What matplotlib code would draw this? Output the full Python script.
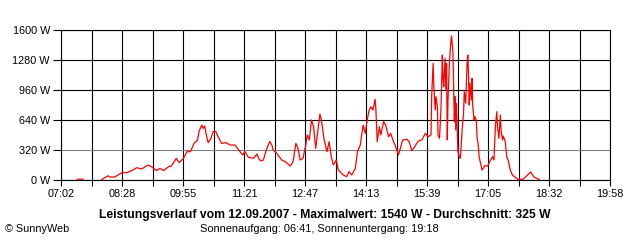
import matplotlib.pyplot as plt
import numpy as np

# power readings (W), 12.09.2007
times = ["07:25", "07:33", None,
         "07:59", "08:08", "08:11", "08:18", "08:28", "08:35", "08:42", "08:49", "08:56", "09:05",
         "09:10", "09:17", "09:22", "09:27", "09:34", "09:38", "09:45", "09:49", "09:55", "10:00",
         "10:05", "10:10", "10:15", "10:17", "10:21", "10:23", "10:25", "10:28", "10:30", "10:34",
         "10:37", "10:41", "10:44", "10:49", "10:55", "11:01", "11:08", "11:15", "11:19", "11:22",
         "11:27", "11:34", "11:39", "11:42", "11:45", "11:48", "11:53", "11:57", "12:00", "12:02",
         "12:07", "12:14", "12:19", "12:26", "12:30", "12:34", "12:37", "12:40", "12:44", "12:48",
         "12:50", "12:53", "12:56", "12:59", "13:02", "13:06", "13:08", "13:10", "13:14", "13:18",
         "13:21", "13:24", "13:27", "13:31", "13:34", "13:41", "13:46", "13:49", "13:53", "13:58",
         "14:01", "14:05", "14:09", "14:12", "14:14", "14:17", "14:20", "14:23", "14:26", "14:27",
         "14:29", "14:32", "14:34", "14:38", "14:41", "14:45", "14:48", "14:52", "14:55", "14:59",
         "15:01", "15:05", "15:11", "15:14", "15:18", "15:22", "15:27", "15:32", "15:37", "15:41",
         "15:45", "15:46", "15:48", "15:49", "15:51", "15:52", "15:54", "15:55", "15:57", "15:59",
         "16:00", "16:01", "16:02", "16:03", "16:05", "16:06", "16:07", "16:08", "16:09", "16:11",
         "16:12", "16:13", "16:14", "16:16", "16:17", "16:18", "16:19", "16:20", "16:21", "16:23",
         "16:25", "16:26", "16:27", "16:29", "16:31", "16:32", "16:34", "16:36", "16:37", "16:38",
         "16:39", "16:40", "16:42", "16:43", "16:44", "16:46", "16:47", "16:49", "16:50", "16:52",
         "16:53", "16:55", "16:57", "16:59", "17:01", "17:05", "17:08", "17:12", "17:14", "17:16",
         "17:18", "17:19", "17:21", "17:23", "17:24", "17:26", "17:27", "17:30", "17:32", "17:34",
         "17:37", "17:40", "17:45", "17:48", "17:55", "18:00", "18:06", "18:10", "18:14", "18:18"]
power = [8, 8, None,
         0, 45, 32, 32, 78, 78, 100, 131, 117, 160,
         142, 100, 124, 100, 142, 149, 231, 185, 231, 302,
         302, 391, 427, 516, 587, 551, 576, 462, 398, 444,
         516, 516, 462, 391, 398, 373, 373, 302, 267, 302,
         242, 231, 277, 220, 203, 213, 338, 409, 373, 320,
         284, 213, 196, 149, 196, 391, 338, 213, 231, 373,
         480, 427, 640, 569, 338, 587, 704, 640, 427, 302,
         409, 249, 160, 213, 107, 53, 36, 89, 53, 124,
         302, 373, 587, 498, 604, 729, 782, 747, 860, 764,
         409, 569, 480, 622, 587, 462, 498, 409, 356, 267,
         320, 427, 434, 409, 312, 356, 416, 427, 498, 462,
         480, 907, 1244, 995, 747, 889, 782, 480, 444, 747,
         995, 1333, 1084, 995, 1298, 960, 1244, 427, 853, 1244,
         1369, 1476, 1536, 1369, 995, 622, 889, 533, 818, 302,
         249, 231, 284, 533, 711, 942, 818, 1244, 1333, 1138,
         800, 1031, 853, 1084, 782, 640, 676, 640, 462, 356,
         249, 178, 107, 124, 153, 149, 196, 249, 213, 569,
         729, 569, 444, 693, 533, 427, 469, 409, 249, 213,
         107, 53, 25, 7, 7, 43, 85, 36, 18, 7]

xlabels = ["07:02", "08:28", "09:55", "11:21", "12:47", "14:13", "15:39", "17:05", "18:32", "19:58"]
yvals = [0, 320, 640, 960, 1280, 1600]


def to_min(s):
    if s is None:
        return np.nan
    h, m = s.split(":")
    return int(h) * 60 + int(m)


t = np.array([to_min(s) for s in times], dtype=float)
p = np.array([np.nan if v is None else v for v in power], dtype=float)

plt.rcParams['font.family'] = ['Liberation Sans', 'DejaVu Sans']

fig = plt.figure(figsize=(6.4, 2.4), dpi=100)
ax = fig.add_axes([61 / 640, 60 / 240, 549 / 640, 150 / 240])

x0, x1 = to_min(xlabels[0]), to_min(xlabels[-1])
ax.set_xlim(x0, x1)
ax.set_ylim(0, 1600)

# vertical grid every half label step
vlines = np.linspace(x0, x1, 2 * (len(xlabels) - 1) + 1)
for xv in vlines:
    ax.axvline(xv, color="black", lw=0.8, zorder=1)
for yv in yvals:
    ax.axhline(yv, color="#808080" if yv == 320 else "black", lw=0.8, zorder=1)

ax.plot(t, p, color="#ff0000", lw=0.9, zorder=3)

ax.set_xticks(vlines, minor=True)
ax.set_xticks(np.linspace(x0, x1, len(xlabels)))
ax.set_xticklabels(xlabels)
ax.set_yticks(yvals)
ax.set_yticklabels([f"{v} W" for v in yvals])
ax.tick_params(axis="x", which="both", length=4.5, width=0.8, pad=2, labelsize=7.8)
ax.tick_params(axis="y", length=6, width=0.8, pad=2, labelsize=7.8)
for sp in ax.spines.values():
    sp.set_linewidth(0.8)

fig.text(0.508, 0.104, "Leistungsverlauf vom 12.09.2007 - Maximalwert: 1540 W - Durchschnitt: 325 W",
         ha="center", va="center", fontsize=8.7, fontweight="bold")
fig.text(0.499, 0.046, "Sonnenaufgang: 06:41, Sonnenuntergang: 19:18",
         ha="center", va="center", fontsize=7.9)
fig.text(0.008, 0.046, "© SunnyWeb", ha="left", va="center", fontsize=7.8)

fig.savefig("out.png", dpi=100)
